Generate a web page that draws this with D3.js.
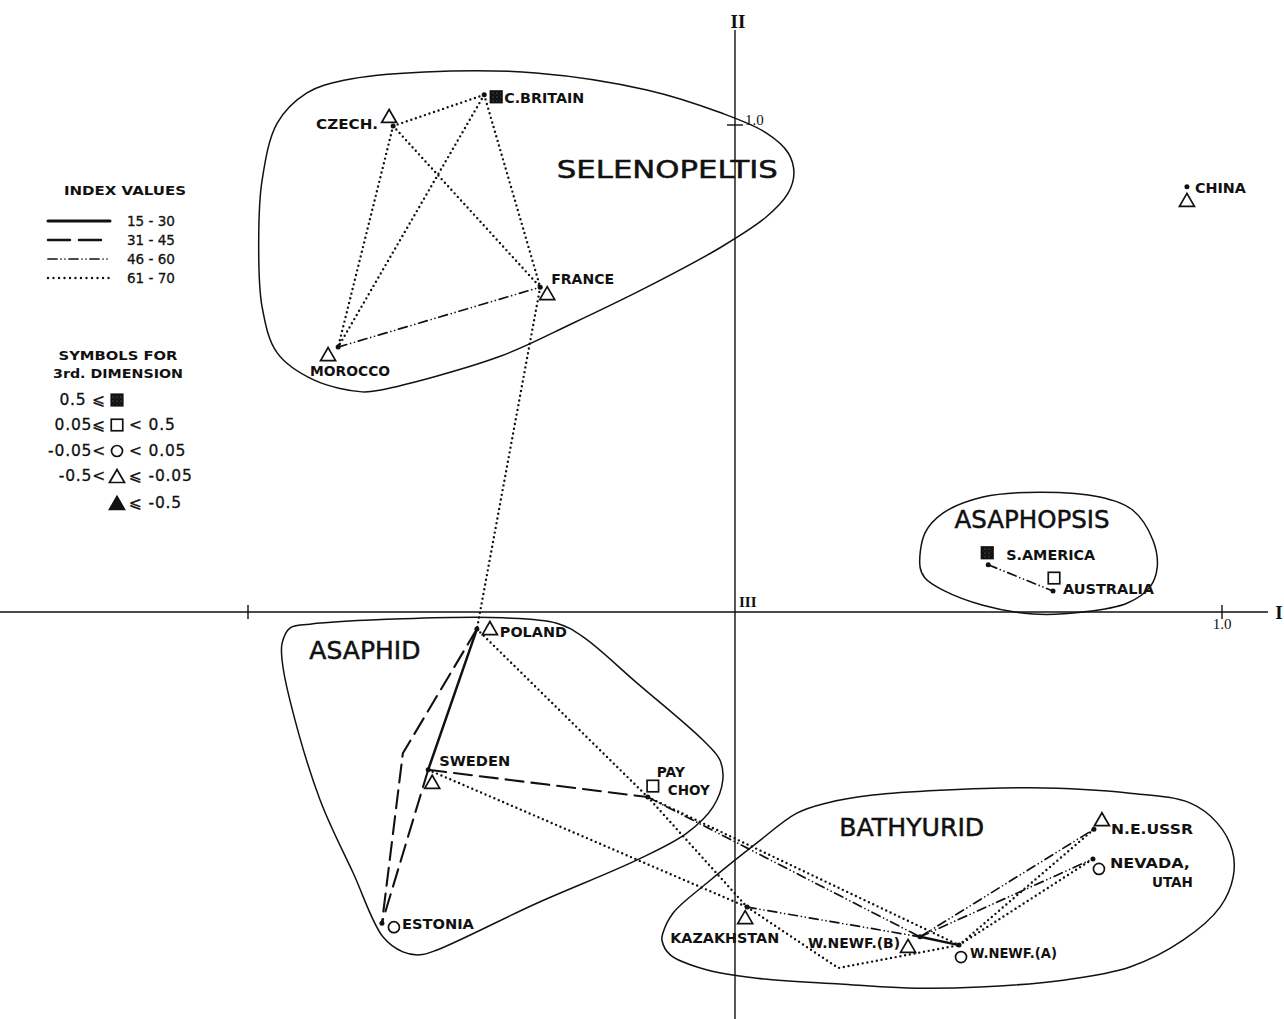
<!DOCTYPE html>
<html>
<head>
<meta charset="utf-8">
<script src="https://cdn.jsdelivr.net/npm/d3@7"></script>
<style>
  body { margin: 0; background: #fff; }
  svg { display: block; }
</style>
</head>
<body>
<svg id="chart" width="1284" height="1019"></svg>
<script>
// ---- Ordination scores of the faunal localities ----
const localities = ["C.BRITAIN", "CZECH.", "FRANCE", "MOROCCO", "POLAND", "SWEDEN", "ESTONIA",
  "PAY CHOY", "KAZAKHSTAN", "W.NEWF.(B)", "W.NEWF.(A)", "N.E.USSR", "NEVADA, UTAH",
  "S.AMERICA", "AUSTRALIA", "CHINA"];
const axisI  = [-0.515, -0.702, -0.400, -0.815, -0.530, -0.630, -0.725, -0.179, 0.025, 0.380, 0.460, 0.737, 0.735, 0.520, 0.653, 0.928];
const axisII = [ 1.062,  0.998,  0.667,  0.544, -0.035, -0.324, -0.639, -0.380, -0.606, -0.667, -0.684, -0.446, -0.507, 0.097, 0.043, 0.873];
// third-dimension class: hi (>=0.5), pos (0.05..0.5), zero (-0.05..0.05), neg (-0.5..-0.05), lo (<=-0.5)
const thirdDim = ["hi", "neg", "neg", "neg", "neg", "neg", "zero", "pos", "neg", "neg", "zero", "neg", "zero", "hi", "pos", "neg"];

// ---- Index values linking localities ----
const indexClasses = ["15-30", "31-45", "46-60", "61-70"];
const linkFrom  = ["CZECH.", "CZECH.", "CZECH.", "C.BRITAIN", "C.BRITAIN", "MOROCCO", "FRANCE",
  "POLAND", "POLAND", "SWEDEN", "SWEDEN", "SWEDEN", "POLAND", "PAY CHOY", "PAY CHOY", "PAY CHOY",
  "KAZAKHSTAN", "KAZAKHSTAN", "W.NEWF.(B)", "W.NEWF.(B)", "W.NEWF.(B)", "W.NEWF.(A)", "W.NEWF.(A)", "S.AMERICA"];
const linkTo    = ["C.BRITAIN", "MOROCCO", "FRANCE", "MOROCCO", "FRANCE", "FRANCE", "POLAND",
  "SWEDEN", "ESTONIA", "ESTONIA", "PAY CHOY", "KAZAKHSTAN", "PAY CHOY", "KAZAKHSTAN", "W.NEWF.(A)", "W.NEWF.(B)",
  "W.NEWF.(B)", "W.NEWF.(A)", "W.NEWF.(A)", "N.E.USSR", "NEVADA, UTAH", "N.E.USSR", "NEVADA, UTAH", "AUSTRALIA"];
const linkClass = ["61-70", "61-70", "61-70", "61-70", "61-70", "46-60", "61-70",
  "15-30", "31-45", "31-45", "31-45", "61-70", "61-70", "61-70", "61-70", "46-60",
  "46-60", "61-70", "15-30", "46-60", "46-60", "61-70", "61-70", "46-60"];
// links routed round other localities (axis I, axis II of the bend)
const linkBends = { "POLAND|ESTONIA": [-0.682, -0.290], "KAZAKHSTAN|W.NEWF.(A)": [0.212, -0.731] };

// ---- Faunal provinces: enclosing outlines in score units ----
const provinceNames = ["SELENOPELTIS", "ASAPHID", "ASAPHOPSIS", "BATHYURID"];
const provinceLabelAt = [[-0.139, 0.908], [-0.760, -0.080], [0.610, 0.189], [0.363, -0.444]];
const selenopeltisOutline = [[-0.978,0.764],[-0.971,0.887],[-0.940,1.004],[-0.879,1.066],[-0.803,1.092],[-0.637,1.109],[-0.409,1.107],[-0.181,1.072],[-0.029,1.025],[0.064,0.984],[0.109,0.943],[0.121,0.901],[0.109,0.860],[0.064,0.811],[-0.029,0.749],[-0.181,0.667],[-0.333,0.593],[-0.485,0.524],[-0.727,0.456],[-0.766,0.452],[-0.864,0.476],[-0.940,0.532],[-0.971,0.626]];
const asaphidOutline = [[-0.930,-0.064],[-0.914,-0.033],[-0.873,-0.025],[-0.682,-0.014],[-0.476,-0.012],[-0.366,-0.023],[-0.312,-0.051],[-0.201,-0.146],[-0.066,-0.263],[-0.031,-0.304],[-0.025,-0.345],[-0.045,-0.400],[-0.099,-0.454],[-0.201,-0.509],[-0.407,-0.598],[-0.612,-0.694],[-0.647,-0.704],[-0.682,-0.698],[-0.723,-0.667],[-0.784,-0.536],[-0.852,-0.386],[-0.914,-0.181],[-0.930,-0.099]];
const asaphopsisOutline = [[0.380,0.092],[0.390,0.162],[0.427,0.203],[0.509,0.236],[0.626,0.246],[0.749,0.236],[0.817,0.209],[0.858,0.148],[0.867,0.092],[0.852,0.051],[0.805,0.018],[0.715,0.000],[0.612,-0.004],[0.509,0.014],[0.427,0.045],[0.390,0.070]];
const bathyuridOutline = [[-0.148,-0.659],[-0.127,-0.618],[-0.057,-0.556],[0.045,-0.474],[0.127,-0.413],[0.189,-0.392],[0.283,-0.376],[0.421,-0.366],[0.606,-0.361],[0.811,-0.372],[0.934,-0.392],[0.990,-0.433],[1.021,-0.489],[1.023,-0.544],[0.996,-0.606],[0.920,-0.674],[0.811,-0.729],[0.674,-0.756],[0.503,-0.770],[0.353,-0.772],[0.216,-0.764],[0.045,-0.752],[-0.057,-0.735],[-0.133,-0.704],[-0.150,-0.674]];

// ---- Axis ticks ----
const axisITicks = [-1, 1];
const axisIITicks = [1];

// ---- Lettering layout: symbol offset from the locality dot and label placement (px) ----
const layout = {
  "C.BRITAIN":   { sym: [12, 2],   lines: [{ t: "C.BRITAIN", dx: 20, dy: 3, w: 80 }] },
  "CZECH.":      { sym: [-4, -10], lines: [{ t: "CZECH.", dx: -15, dy: -2, w: 62, end: true }] },
  "FRANCE":      { sym: [7, 6],    lines: [{ t: "FRANCE", dx: 11, dy: -8, w: 63 }] },
  "MOROCCO":     { sym: [-10, 7],  lines: [{ t: "MOROCCO", dx: -28, dy: 24, w: 80 }] },
  "POLAND":      { sym: [13, -1],  lines: [{ t: "POLAND", dx: 23, dy: 3, w: 67 }] },
  "SWEDEN":      { sym: [4, 12],   lines: [{ t: "SWEDEN", dx: 11, dy: -9, w: 71 }] },
  "ESTONIA":     { sym: [12, 4],   lines: [{ t: "ESTONIA", dx: 20, dy: 1, w: 72 }] },
  "PAY CHOY":    { sym: [5, -11],  lines: [{ t: "PAY", dx: 9, dy: -25, w: 28 }, { t: "CHOY", dx: 20, dy: -7, w: 42 }] },
  "KAZAKHSTAN":  { sym: [-2, 10],  lines: [{ t: "KAZAKHSTAN", dx: -77, dy: 31, w: 109 }] },
  "W.NEWF.(B)":  { sym: [-12, 9],  lines: [{ t: "W.NEWF.(B)", dx: -112, dy: 6, w: 92 }] },
  "W.NEWF.(A)":  { sym: [2, 12],   lines: [{ t: "W.NEWF.(A)", dx: 11, dy: 8, w: 87 }] },
  "N.E.USSR":    { sym: [8, -10],  lines: [{ t: "N.E.USSR", dx: 17, dy: 0, w: 82 }] },
  "NEVADA, UTAH":{ sym: [6, 10],   lines: [{ t: "NEVADA,", dx: 17, dy: 4, w: 80 }, { t: "UTAH", dx: 100, dy: 23, w: 41, end: true }] },
  "S.AMERICA":   { sym: [-1, -12], lines: [{ t: "S.AMERICA", dx: 18, dy: -10, w: 89 }] },
  "AUSTRALIA":   { sym: [1, -13],  lines: [{ t: "AUSTRALIA", dx: 10, dy: -2, w: 91 }] },
  "CHINA":       { sym: [0, 13],   lines: [{ t: "CHINA", dx: 8, dy: 1, w: 51 }] }
};
const provinceLabelWidth = { "SELENOPELTIS": 221, "ASAPHID": 111, "ASAPHOPSIS": 155, "BATHYURID": 145 };

// ---- Line styles for the index classes ----
const lineStyle = {
  "15-30": { width: 2.5, dash: null },
  "31-45": { width: 2.1, dash: "18,8" },
  "46-60": { width: 1.7, dash: "9,4,0,4,0,4" },
  "61-70": { width: 2.4, dash: "0,4.8" }
};

const svg = d3.select("#chart");
const LABEL_FONT = "'DejaVu Sans', 'Liberation Sans', sans-serif";
const SERIF = "'Liberation Serif', 'DejaVu Serif', serif";

const x = d3.scaleLinear().domain([-1, 1]).range([248, 1222]);
const y = d3.scaleLinear().domain([-1, 1]).range([1099, 125]);

// stippled fill for the high third-dimension squares
const defs = svg.append("defs");
const pat = defs.append("pattern").attr("id", "stipple")
  .attr("patternUnits", "userSpaceOnUse").attr("width", 4).attr("height", 4);
pat.append("rect").attr("width", 4).attr("height", 4).attr("fill", "#111");
pat.append("circle").attr("cx", 1).attr("cy", 1).attr("r", 0.6).attr("fill", "#888");
pat.append("circle").attr("cx", 3).attr("cy", 3).attr("r", 0.4).attr("fill", "#555");

// ---- Province outlines ----
const outlineLine = d3.line().x(d => x(d[0])).y(d => y(d[1])).curve(d3.curveCatmullRomClosed.alpha(0.5));
const outlines = [selenopeltisOutline, asaphidOutline, asaphopsisOutline, bathyuridOutline];
svg.append("g").selectAll("path").data(outlines).join("path")
  .attr("d", outlineLine)
  .attr("fill", "none").attr("stroke", "#111").attr("stroke-width", 1.5);

// ---- Axes ----
const ax = svg.append("g").attr("stroke", "#111").attr("stroke-width", 1.4);
ax.append("line").attr("x1", 0).attr("x2", 1268).attr("y1", y(0)).attr("y2", y(0));
ax.append("line").attr("x1", x(0)).attr("x2", x(0)).attr("y1", 30).attr("y2", 1019);
ax.selectAll(".tI").data(axisITicks).join("line").attr("class", "tI")
  .attr("x1", d => x(d)).attr("x2", d => x(d)).attr("y1", y(0) - 7).attr("y2", y(0) + 7);
ax.selectAll(".tII").data(axisIITicks).join("line").attr("class", "tII")
  .attr("x1", x(0) - 8).attr("x2", x(0) + 8).attr("y1", d => y(d)).attr("y2", d => y(d));

const axText = svg.append("g").attr("font-family", SERIF).attr("fill", "#111");
axText.append("text").attr("x", x(0) + 3).attr("y", 21).attr("text-anchor", "middle")
  .attr("dominant-baseline", "central").attr("font-size", 19).attr("font-weight", "bold").text("II");
axText.append("text").attr("x", 1279).attr("y", y(0)).attr("text-anchor", "middle")
  .attr("dominant-baseline", "central").attr("font-size", 19).attr("font-weight", "bold").text("I");
axText.append("text").attr("x", x(0) + 4).attr("y", y(0) - 10).attr("dominant-baseline", "central")
  .attr("font-size", 15).attr("font-weight", "bold").text("III");
axText.selectAll(".lI").data(axisITicks.filter(d => d > 0)).join("text").attr("class", "lI")
  .attr("x", d => x(d)).attr("y", y(0) + 12).attr("text-anchor", "middle")
  .attr("dominant-baseline", "central").attr("font-size", 15).text(d => d3.format(".1f")(d));
axText.selectAll(".lII").data(axisIITicks).join("text").attr("class", "lII")
  .attr("x", x(0) + 10).attr("y", d => y(d) - 5).attr("dominant-baseline", "central")
  .attr("font-size", 15).text(d => d3.format(".1f")(d));

// ---- Links ----
const pos = {};
localities.forEach((n, i) => { pos[n] = [axisI[i], axisII[i]]; });
const links = linkFrom.map((f, i) => {
  const pts = [pos[f]];
  const bend = linkBends[f + "|" + linkTo[i]];
  if (bend) pts.push(bend);
  pts.push(pos[linkTo[i]]);
  return { pts, cls: linkClass[i] };
});
const straight = d3.line().x(d => x(d[0])).y(d => y(d[1]));
svg.append("g").selectAll("path").data(links).join("path")
  .attr("d", d => straight(d.pts))
  .attr("fill", "none").attr("stroke", "#111")
  .attr("stroke-linecap", "round").attr("stroke-linejoin", "round")
  .attr("stroke-width", d => lineStyle[d.cls].width)
  .attr("stroke-dasharray", d => lineStyle[d.cls].dash);

// ---- Symbols ----
function drawSymbol(g, kind, cx, cy) {
  const s = 15, h = 13;
  if (kind === "neg" || kind === "lo") {
    g.append("path")
      .attr("d", `M${cx},${cy - h / 2}L${cx + s / 2},${cy + h / 2}L${cx - s / 2},${cy + h / 2}Z`)
      .attr("fill", kind === "lo" ? "#111" : "none").attr("stroke", "#111").attr("stroke-width", 1.7)
      .attr("stroke-linejoin", "miter");
  } else if (kind === "zero") {
    g.append("circle").attr("cx", cx).attr("cy", cy).attr("r", 5.5)
      .attr("fill", "none").attr("stroke", "#111").attr("stroke-width", 1.7);
  } else {
    const a = 11.5;
    g.append("rect").attr("x", cx - a / 2).attr("y", cy - a / 2).attr("width", a).attr("height", a)
      .attr("fill", kind === "hi" ? "url(#stipple)" : "none")
      .attr("stroke", "#111").attr("stroke-width", 1.7);
  }
}

const nodes = svg.append("g");
localities.forEach((n, i) => {
  const px = x(axisI[i]), py = y(axisII[i]);
  nodes.append("circle").attr("cx", px).attr("cy", py).attr("r", 2.5).attr("fill", "#111");
  const L = layout[n];
  drawSymbol(nodes, thirdDim[i], px + L.sym[0], py + L.sym[1]);
  L.lines.forEach(l => {
    nodes.append("text")
      .attr("x", px + l.dx).attr("y", py + l.dy)
      .attr("text-anchor", l.end ? "end" : "start")
      .attr("dominant-baseline", "central")
      .attr("font-family", LABEL_FONT).attr("font-size", 13.5).attr("font-weight", "bold")
      .attr("fill", "#111")
      .attr("textLength", l.w).attr("lengthAdjust", "spacingAndGlyphs")
      .text(l.t);
  });
});

// ---- Province names ----
svg.append("g").selectAll("text").data(provinceNames).join("text")
  .attr("x", (d, i) => x(provinceLabelAt[i][0]))
  .attr("y", (d, i) => y(provinceLabelAt[i][1]))
  .attr("text-anchor", "middle").attr("dominant-baseline", "central")
  .attr("font-family", LABEL_FONT).attr("font-size", 24).attr("fill", "#111")
  .attr("stroke", "#111").attr("stroke-width", 0.5)
  .attr("textLength", d => provinceLabelWidth[d]).attr("lengthAdjust", "spacingAndGlyphs")
  .text(d => d);

// ---- Legend: index values ----
const leg = svg.append("g").attr("font-family", LABEL_FONT).attr("fill", "#111");
leg.append("text").attr("x", 125).attr("y", 190).attr("text-anchor", "middle")
  .attr("dominant-baseline", "central").attr("font-size", 13).attr("font-weight", "bold")
  .attr("textLength", 122).attr("lengthAdjust", "spacingAndGlyphs").text("INDEX VALUES");
const legendLineStyle = {
  "15-30": { width: 3, dash: null },
  "31-45": { width: 2.4, dash: "22,9" },
  "46-60": { width: 1.7, dash: "9,4,0,4,0,4" },
  "61-70": { width: 2.4, dash: "0,5.5" }
};
indexClasses.forEach((c, i) => {
  const ly = 221 + i * 19;
  leg.append("line").attr("x1", 48).attr("x2", 110).attr("y1", ly).attr("y2", ly)
    .attr("stroke", "#111").attr("stroke-linecap", "round")
    .attr("stroke-width", legendLineStyle[c].width).attr("stroke-dasharray", legendLineStyle[c].dash);
  leg.append("text").attr("x", 127).attr("y", ly).attr("dominant-baseline", "central")
    .attr("font-size", 14).attr("stroke", "#111").attr("stroke-width", 0.3)
    .attr("textLength", 48).attr("lengthAdjust", "spacingAndGlyphs")
    .text(c.replace("-", " - "));
});

// ---- Legend: third-dimension symbols ----
leg.append("text").attr("x", 118).attr("y", 355).attr("text-anchor", "middle")
  .attr("dominant-baseline", "central").attr("font-size", 13).attr("font-weight", "bold")
  .attr("textLength", 119).attr("lengthAdjust", "spacingAndGlyphs").text("SYMBOLS FOR");
leg.append("text").attr("x", 118).attr("y", 373).attr("text-anchor", "middle")
  .attr("dominant-baseline", "central").attr("font-size", 13).attr("font-weight", "bold")
  .attr("textLength", 130).attr("lengthAdjust", "spacingAndGlyphs").text("3rd. DIMENSION");
const symbolKinds = ["hi", "pos", "zero", "neg", "lo"];
const symbolBefore = ["0.5 \u2A7D", "0.05\u2A7D", "-0.05<", "-0.5<", ""];
const symbolAfter = ["", "< 0.5", "< 0.05", "\u2A7D -0.05", "\u2A7D -0.5"];
const symbolRowY = [400, 425, 451, 476, 503];
symbolKinds.forEach((k, i) => {
  const ly = symbolRowY[i];
  drawSymbol(leg, k, 117, ly);
  if (symbolBefore[i]) leg.append("text").attr("x", 106).attr("y", ly).attr("text-anchor", "end")
    .attr("dominant-baseline", "central").attr("font-size", 15.5).attr("letter-spacing", 0.8)
    .attr("stroke", "#111").attr("stroke-width", 0.3)
    .text(symbolBefore[i]);
  if (symbolAfter[i]) leg.append("text").attr("x", 129).attr("y", ly)
    .attr("dominant-baseline", "central").attr("font-size", 15.5).attr("letter-spacing", 0.8)
    .attr("stroke", "#111").attr("stroke-width", 0.3)
    .text(symbolAfter[i]);
});
</script>
</body>
</html>
